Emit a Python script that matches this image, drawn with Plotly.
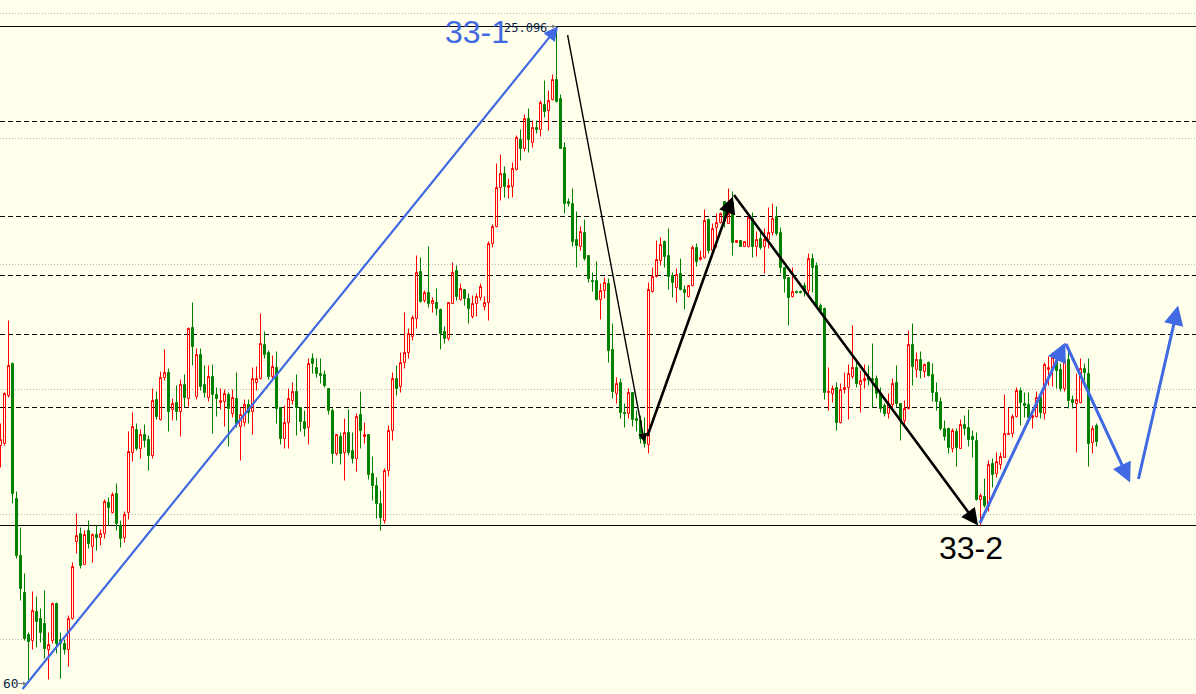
import plotly.graph_objects as go

# ---------------- data (price units) ----------------
opens = [
    1585.5, 1585.7, 1590.5, 1593.7, 1580.2, 1574.5, 1570.8, 1566.6, 1566.0, 1568.9,
    1568.2, 1567.7, 1565.1, 1566.0, 1569.7, 1566.1, 1565.7, 1565.1, 1568.2, 1575.9,
    1576.7, 1573.6, 1577.0, 1575.4, 1576.6, 1576.3, 1576.7, 1579.8, 1578.8, 1580.7,
    1577.5, 1576.3, 1578.8, 1584.8, 1587.1, 1585.2, 1586.6, 1586.1, 1584.5, 1590.1,
    1588.1, 1592.3, 1592.8, 1589.1, 1589.8, 1588.9, 1591.6, 1590.2, 1597.3, 1590.4,
    1594.6, 1591.6, 1590.3, 1592.4, 1590.6, 1589.8, 1589.9, 1590.6, 1588.7, 1590.2,
    1587.4, 1587.8, 1589.6, 1588.9, 1591.8, 1592.2, 1595.6, 1594.8, 1592.4, 1593.3,
    1589.3, 1586.2, 1587.8, 1590.0, 1590.9, 1589.3, 1587.9, 1587.3, 1594.2, 1593.3,
    1592.7, 1592.6, 1591.2, 1589.0, 1584.7, 1586.4, 1584.8, 1586.8, 1585.0, 1584.2,
    1588.6, 1586.4, 1586.6, 1582.7, 1581.5, 1579.7, 1578.0, 1583.0, 1587.0, 1592.2,
    1591.4, 1593.8, 1594.8, 1596.4, 1598.2, 1602.9, 1600.0, 1600.8, 1599.7, 1599.8,
    1599.1, 1596.9, 1596.2, 1599.7, 1603.0, 1600.1, 1601.1, 1600.2, 1598.4, 1599.7,
    1600.3, 1599.4, 1599.8, 1605.7, 1607.4, 1611.3, 1612.7, 1611.3, 1611.4, 1613.1,
    1616.1, 1615.2, 1618.2, 1615.8, 1617.3, 1617.1, 1619.6, 1619.0, 1620.1, 1622.1,
    1620.2, 1615.3, 1609.9, 1609.7, 1606.1, 1605.4, 1606.8, 1604.5, 1602.0, 1602.0,
    1600.1, 1601.0, 1601.7, 1595.1, 1590.7, 1591.8, 1588.8, 1588.7, 1590.8, 1588.2,
    1588.0, 1586.2, 1585.6, 1600.9, 1602.4, 1604.0, 1605.9, 1604.5, 1602.5, 1601.3,
    1602.7, 1601.1, 1600.4, 1601.5, 1605.3, 1604.1, 1604.3, 1608.1, 1605.0, 1607.3,
    1607.8, 1609.9, 1607.7, 1609.8, 1605.8, 1606.0, 1605.4, 1605.4, 1608.2, 1605.4,
    1606.2, 1605.4, 1606.1, 1606.8, 1608.4, 1606.8, 1603.3, 1602.3, 1600.4, 1600.9,
    1600.9, 1601.5, 1601.0, 1604.2, 1603.5, 1599.5, 1599.2, 1590.8, 1590.7, 1591.3,
    1587.8, 1591.1, 1591.3, 1592.4, 1593.3, 1591.6, 1592.0, 1592.4, 1592.2, 1592.2,
    1590.7, 1589.5, 1588.7, 1589.6, 1591.8, 1589.7, 1588.0, 1589.2, 1595.6, 1593.1,
    1594.1, 1592.9, 1593.8, 1592.6, 1590.8, 1589.9, 1587.2, 1587.2, 1585.2, 1586.9,
    1585.2, 1587.6, 1587.3, 1586.4, 1586.0, 1580.1, 1580.4, 1579.4, 1583.7, 1582.7,
    1583.6, 1584.3, 1586.6, 1586.7, 1588.4, 1591.0, 1589.7, 1589.6, 1588.3, 1588.4,
    1590.4, 1588.7, 1593.1, 1593.2, 1594.0, 1593.1, 1591.2, 1594.1, 1590.1, 1589.7,
    1589.8, 1593.2, 1592.7, 1585.8, 1587.5,
]
highs = [
    1587.7, 1590.8, 1598.0, 1593.8, 1580.9, 1577.3, 1572.7, 1566.8, 1570.9, 1570.4,
    1569.2, 1571.0, 1566.8, 1569.8, 1569.8, 1566.8, 1566.1, 1568.5, 1573.8, 1578.7,
    1577.3, 1577.0, 1578.0, 1576.7, 1577.5, 1577.1, 1580.1, 1580.3, 1580.8, 1581.7,
    1578.0, 1578.9, 1586.9, 1588.8, 1587.7, 1587.1, 1587.6, 1586.5, 1591.2, 1590.9,
    1592.9, 1595.1, 1593.2, 1590.2, 1591.5, 1592.1, 1592.6, 1597.3, 1599.8, 1595.2,
    1595.2, 1593.5, 1593.5, 1593.6, 1591.3, 1591.2, 1591.1, 1590.8, 1591.1, 1592.8,
    1589.3, 1590.1, 1590.1, 1593.3, 1593.4, 1598.7, 1596.9, 1595.0, 1594.5, 1594.9,
    1589.3, 1589.5, 1591.2, 1591.8, 1592.6, 1589.3, 1589.0, 1594.2, 1594.7, 1594.2,
    1594.2, 1593.0, 1591.2, 1589.2, 1586.6, 1586.8, 1588.2, 1589.1, 1586.8, 1588.7,
    1590.9, 1587.8, 1586.6, 1584.4, 1582.3, 1581.0, 1583.2, 1587.5, 1592.8, 1593.5,
    1594.8, 1598.8, 1597.2, 1598.5, 1604.5, 1604.3, 1601.0, 1605.4, 1600.3, 1601.2,
    1599.2, 1597.4, 1599.8, 1603.8, 1603.5, 1601.7, 1601.1, 1600.7, 1600.5, 1600.7,
    1601.7, 1600.4, 1605.9, 1607.6, 1613.7, 1614.6, 1613.4, 1612.2, 1613.8, 1616.5,
    1617.1, 1618.6, 1619.2, 1618.0, 1618.0, 1620.0, 1622.0, 1621.0, 1622.6, 1627.4,
    1620.6, 1615.8, 1610.2, 1611.2, 1608.9, 1607.4, 1608.1, 1604.5, 1602.8, 1603.9,
    1601.7, 1602.3, 1602.2, 1597.7, 1592.3, 1592.2, 1589.7, 1591.2, 1590.8, 1589.0,
    1588.5, 1588.3, 1601.8, 1603.3, 1606.0, 1606.3, 1606.0, 1607.2, 1602.8, 1603.2,
    1604.2, 1601.5, 1601.5, 1605.5, 1605.7, 1605.0, 1609.1, 1608.2, 1607.7, 1608.7,
    1608.8, 1609.9, 1611.2, 1610.9, 1606.0, 1606.0, 1605.9, 1608.6, 1608.8, 1606.9,
    1607.0, 1607.2, 1609.3, 1609.7, 1609.4, 1607.3, 1603.3, 1602.3, 1603.3, 1601.0,
    1601.0, 1601.8, 1604.7, 1604.7, 1603.8, 1599.7, 1599.3, 1593.3, 1591.5, 1591.8,
    1591.7, 1592.8, 1593.6, 1597.5, 1594.0, 1593.0, 1593.6, 1593.5, 1595.7, 1592.5,
    1591.3, 1589.7, 1590.7, 1592.2, 1593.5, 1589.7, 1590.0, 1597.0, 1597.7, 1594.8,
    1594.9, 1593.7, 1593.9, 1593.7, 1591.8, 1590.3, 1588.0, 1587.3, 1587.2, 1587.2,
    1588.1, 1588.5, 1589.1, 1587.0, 1586.8, 1580.7, 1582.2, 1584.0, 1584.2, 1584.8,
    1584.8, 1590.6, 1589.3, 1588.6, 1591.3, 1591.3, 1590.8, 1590.8, 1588.8, 1590.9,
    1590.8, 1593.8, 1594.4, 1594.8, 1594.8, 1593.7, 1595.7, 1595.0, 1590.5, 1592.7,
    1594.2, 1593.7, 1594.2, 1587.5, 1587.7,
]
lows = [
    1583.3, 1585.5, 1590.3, 1579.7, 1574.2, 1570.0, 1566.0, 1561.8, 1565.1, 1565.3,
    1565.8, 1564.2, 1562.1, 1565.7, 1564.7, 1562.2, 1564.6, 1563.4, 1568.1, 1574.7,
    1573.2, 1573.6, 1575.2, 1573.8, 1575.0, 1575.5, 1576.2, 1577.5, 1578.7, 1577.0,
    1575.3, 1575.8, 1578.1, 1583.9, 1585.0, 1584.2, 1585.3, 1583.0, 1584.2, 1588.1,
    1588.0, 1592.0, 1586.9, 1588.0, 1588.0, 1586.4, 1589.3, 1589.4, 1593.5, 1590.1,
    1591.0, 1590.3, 1589.9, 1586.7, 1588.4, 1589.1, 1587.4, 1585.4, 1588.3, 1587.3,
    1584.0, 1587.4, 1587.7, 1586.6, 1591.0, 1592.1, 1594.2, 1592.1, 1592.1, 1587.7,
    1585.6, 1585.2, 1585.2, 1589.6, 1586.5, 1586.9, 1586.4, 1585.6, 1592.7, 1592.3,
    1591.7, 1591.3, 1588.6, 1583.7, 1584.5, 1583.6, 1582.0, 1584.5, 1583.7, 1582.9,
    1585.2, 1585.7, 1582.1, 1580.0, 1578.2, 1577.0, 1577.7, 1582.4, 1586.0, 1590.5,
    1590.8, 1593.2, 1594.2, 1596.0, 1597.2, 1599.8, 1599.8, 1599.3, 1598.8, 1598.5,
    1595.1, 1595.7, 1596.0, 1599.7, 1600.0, 1600.0, 1599.5, 1597.7, 1598.2, 1598.4,
    1600.0, 1599.0, 1598.0, 1605.3, 1607.3, 1610.0, 1610.3, 1610.2, 1610.3, 1613.0,
    1614.0, 1614.9, 1614.8, 1615.3, 1616.7, 1616.4, 1618.3, 1617.0, 1620.0, 1619.8,
    1615.2, 1608.7, 1609.4, 1605.4, 1603.3, 1605.0, 1604.0, 1601.8, 1600.9, 1600.0,
    1598.1, 1600.2, 1593.8, 1590.2, 1589.7, 1588.2, 1587.3, 1588.2, 1587.4, 1586.9,
    1585.7, 1585.3, 1584.7, 1600.8, 1602.3, 1603.5, 1603.3, 1601.1, 1600.3, 1599.8,
    1601.0, 1599.1, 1600.3, 1601.4, 1603.4, 1604.0, 1604.2, 1604.7, 1604.9, 1605.3,
    1607.7, 1607.3, 1607.7, 1604.5, 1605.8, 1605.4, 1605.4, 1605.3, 1604.3, 1604.4,
    1605.1, 1602.7, 1605.2, 1606.5, 1606.5, 1602.7, 1600.8, 1597.5, 1600.3, 1600.7,
    1600.7, 1600.4, 1600.5, 1600.8, 1599.2, 1598.8, 1590.1, 1589.0, 1589.8, 1587.0,
    1587.7, 1590.7, 1588.1, 1592.2, 1591.3, 1588.8, 1591.2, 1591.5, 1589.3, 1590.2,
    1588.8, 1588.4, 1588.2, 1589.0, 1589.3, 1586.0, 1587.6, 1589.1, 1591.5, 1592.3,
    1592.2, 1592.3, 1592.4, 1589.9, 1589.0, 1587.0, 1586.0, 1584.7, 1584.8, 1583.4,
    1585.2, 1586.5, 1585.4, 1584.3, 1580.0, 1577.5, 1579.3, 1578.9, 1581.3, 1582.3,
    1583.1, 1584.3, 1586.6, 1586.3, 1588.3, 1587.5, 1588.3, 1587.7, 1587.2, 1588.3,
    1588.2, 1588.1, 1591.5, 1591.4, 1591.2, 1590.9, 1590.9, 1589.2, 1589.2, 1584.8,
    1589.7, 1592.0, 1583.4, 1584.7, 1585.4,
]
closes = [
    1586.1, 1590.7, 1593.5, 1580.7, 1574.5, 1571.2, 1566.2, 1565.9, 1569.0, 1567.9,
    1566.8, 1565.2, 1565.6, 1569.7, 1565.7, 1565.7, 1565.1, 1568.2, 1573.4, 1576.5,
    1573.5, 1576.6, 1575.7, 1576.6, 1576.3, 1576.7, 1579.9, 1579.3, 1580.6, 1577.7,
    1576.2, 1578.6, 1584.9, 1587.4, 1585.2, 1586.6, 1586.0, 1584.5, 1590.0, 1588.4,
    1592.3, 1592.8, 1588.9, 1589.7, 1588.9, 1591.6, 1590.3, 1597.2, 1595.4, 1594.6,
    1591.4, 1590.8, 1592.4, 1590.6, 1590.2, 1590.0, 1590.7, 1589.2, 1590.3, 1587.7,
    1588.6, 1589.6, 1588.8, 1592.2, 1592.2, 1595.7, 1594.6, 1592.4, 1593.4, 1589.2,
    1586.2, 1587.8, 1590.2, 1590.9, 1589.3, 1587.9, 1587.2, 1593.7, 1593.7, 1592.7,
    1592.5, 1591.5, 1589.0, 1584.7, 1586.6, 1584.7, 1586.8, 1584.8, 1584.2, 1588.4,
    1587.0, 1586.6, 1582.6, 1581.5, 1579.7, 1578.3, 1583.0, 1587.0, 1592.2, 1591.2,
    1593.8, 1594.8, 1596.7, 1598.3, 1602.8, 1599.9, 1600.8, 1599.7, 1600.0, 1599.2,
    1596.7, 1596.2, 1599.8, 1602.8, 1600.4, 1601.2, 1600.2, 1599.2, 1599.7, 1600.4,
    1601.4, 1599.8, 1605.7, 1607.4, 1611.3, 1612.7, 1611.4, 1611.5, 1613.2, 1616.3,
    1615.2, 1618.2, 1616.1, 1617.3, 1617.1, 1619.8, 1618.9, 1620.0, 1622.1, 1619.9,
    1615.2, 1609.7, 1609.7, 1605.9, 1605.5, 1606.9, 1604.2, 1602.2, 1601.9, 1600.1,
    1601.0, 1601.8, 1595.0, 1590.9, 1591.7, 1588.8, 1588.7, 1590.8, 1588.1, 1588.0,
    1586.2, 1585.7, 1601.1, 1602.4, 1604.1, 1605.6, 1604.4, 1602.4, 1601.8, 1602.6,
    1601.1, 1600.8, 1601.5, 1605.3, 1603.9, 1604.3, 1608.0, 1605.0, 1607.2, 1607.8,
    1608.7, 1607.9, 1608.7, 1605.8, 1606.0, 1605.4, 1605.9, 1608.3, 1605.4, 1606.1,
    1605.3, 1606.1, 1606.8, 1608.2, 1606.7, 1603.3, 1602.2, 1600.3, 1600.9, 1600.8,
    1600.8, 1600.9, 1604.2, 1603.3, 1599.5, 1599.0, 1590.8, 1590.9, 1591.2, 1587.8,
    1591.1, 1591.3, 1592.7, 1593.3, 1591.7, 1592.0, 1592.2, 1592.1, 1592.0, 1590.7,
    1589.2, 1588.7, 1589.7, 1591.7, 1589.7, 1588.0, 1589.2, 1595.6, 1593.4, 1594.1,
    1593.0, 1593.6, 1592.5, 1590.8, 1589.9, 1587.2, 1586.4, 1585.3, 1587.0, 1585.3,
    1587.6, 1587.2, 1586.1, 1586.1, 1580.1, 1580.5, 1579.5, 1583.6, 1582.6, 1583.9,
    1584.4, 1586.7, 1586.7, 1588.4, 1591.0, 1589.8, 1589.5, 1588.3, 1588.5, 1590.3,
    1588.8, 1593.6, 1593.3, 1594.3, 1593.0, 1591.2, 1594.0, 1590.0, 1589.8, 1590.1,
    1593.2, 1592.8, 1585.7, 1587.2, 1585.9,
]

# horizontal price levels
solid_levels = [1627.4, 1577.5]
dashed_levels = [1617.9, 1608.4, 1602.5, 1596.6, 1589.3]
dotted_levels = [1628.7, 1616.2, 1603.6, 1591.1, 1578.6, 1566.1]

# trend arrows: (start bar, start price, end bar, end price)
blue_arrows = [
    (5.2, 1561.0, 139.4, 1627.4),
    (244.7, 1577.6, 266.2, 1595.8),
    (266.2, 1595.8, 282.4, 1581.8),
    (284.4, 1582.0, 294.4, 1599.5),
]
black_arrows = [
    (141.7, 1626.7, 161.0, 1585.8),
    (161.6, 1586.3, 183.1, 1610.4),
    (183.1, 1610.7, 244.4, 1577.5),
]
labels = [("33-1", 119.2, 1626.9, "#4169E1"), ("33-2", 242.7, 1575.3, "#000000")]
high_label = ("25.096", 125.3, 1627.3)
low_label = ("60", 0.0, 1561.7)

# ---------------- figure ----------------
BG = "#FFFFEC"
bars = list(range(len(opens)))

fig = go.Figure()
fig.add_trace(go.Candlestick(
    x=bars, open=opens, high=highs, low=lows, close=closes,
    increasing=dict(line=dict(color="#FF0000", width=1), fillcolor="rgba(0,0,0,0)"),
    decreasing=dict(line=dict(color="#008000", width=1), fillcolor="#008000"),
    whiskerwidth=0, hoverinfo="skip", showlegend=False,
))

shapes = []
for lv in dotted_levels:
    shapes.append(dict(type="line", xref="paper", x0=0, x1=1, yref="y", y0=lv, y1=lv,
                       line=dict(color="#B4B4B4", width=1, dash="1px,2px"), layer="below"))
for lv in dashed_levels:
    shapes.append(dict(type="line", xref="paper", x0=0, x1=1, yref="y", y0=lv, y1=lv,
                       line=dict(color="#000000", width=1, dash="5px,3px"), layer="below"))
for lv in solid_levels:
    shapes.append(dict(type="line", xref="paper", x0=0, x1=1, yref="y", y0=lv, y1=lv,
                       line=dict(color="#000000", width=1), layer="below"))

annotations = []
for i, (k0, p0, k1, p1) in enumerate(blue_arrows):
    annotations.append(dict(x=k1, y=p1, ax=k0, ay=p0, xref="x", yref="y", axref="x", ayref="y",
                            text="", showarrow=True, arrowhead=2, arrowsize=1.3,
                            arrowwidth=2.2 if i == 0 else 3, arrowcolor="#4169E1", standoff=0))
for i, (k0, p0, k1, p1) in enumerate(black_arrows):
    annotations.append(dict(x=k1, y=p1, ax=k0, ay=p0, xref="x", yref="y", axref="x", ayref="y",
                            text="", showarrow=True, arrowhead=2, arrowsize=1.3,
                            arrowwidth=1.4 if i == 0 else 2.6, arrowcolor="#000000", standoff=0))
for txt, k, p, col in labels:
    annotations.append(dict(x=k, y=p, xref="x", yref="y", text=txt, showarrow=False,
                            font=dict(family="Liberation Sans, Arial", size=32, color=col)))
annotations.append(dict(x=high_label[1], y=high_label[2], xref="x", yref="y", text=high_label[0],
                        xanchor="left", showarrow=False,
                        font=dict(family="DejaVu Sans Mono", size=12, color="#0B1F4B")))
annotations.append(dict(x=138.9, y=1627.4, xref="x", yref="y", ax=-13, ay=0, text="",
                        showarrow=True, arrowhead=2, arrowsize=0.8, arrowwidth=1,
                        arrowcolor="#808080", standoff=0))
annotations.append(dict(x=low_label[1], y=low_label[2], xref="x", yref="y", text=low_label[0],
                        xanchor="left", showarrow=False,
                        font=dict(family="DejaVu Sans Mono", size=13, color="#0B1F4B")))
annotations.append(dict(x=6.6, y=1561.7, xref="x", yref="y", ax=-12, ay=0, text="",
                        showarrow=True, arrowhead=2, arrowsize=0.8, arrowwidth=1,
                        arrowcolor="#808080", standoff=0))

fig.update_layout(
    width=1196, height=694,
    margin=dict(l=0, r=0, t=0, b=0),
    paper_bgcolor=BG, plot_bgcolor=BG,
    shapes=shapes, annotations=annotations,
    showlegend=False,
    xaxis=dict(range=[-0.125, 298.875], visible=False, rangeslider=dict(visible=False),
               showgrid=False, zeroline=False),
    yaxis=dict(range=[1560.65, 1630.05], visible=False, showgrid=False, zeroline=False),
)

fig.write_html(
    "out.html",
    config={"displayModeBar": False, "staticPlot": True},
    post_script="document.body.style.margin='0px';document.body.style.padding='0px';"
                "document.body.style.background='" + BG + "';",
)
